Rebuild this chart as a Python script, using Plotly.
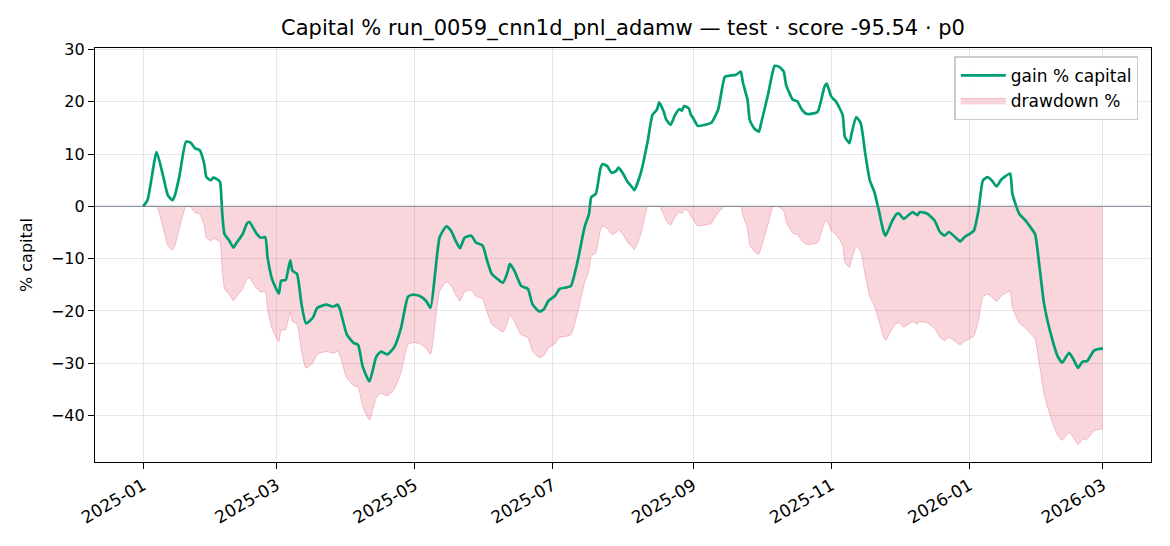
import pandas as pd
import plotly.graph_objects as go

# days since 2025-01-01 and gain % of capital
days = [0, 2, 6, 9, 11, 13, 14, 16, 19, 21, 23, 25, 27, 28, 30, 31, 33, 34, 35, 36,
        38, 40, 41, 44, 46, 47, 50, 52, 54, 55, 57, 60, 61, 63, 65, 66, 68, 70, 72, 75,
        77, 81, 84, 86, 87, 90, 93, 95, 97, 100, 103, 105, 108, 111, 114, 117, 119, 122, 125, 127,
        129, 131, 134, 136, 138, 140, 142, 145, 147, 150, 152, 154, 156, 159, 161, 162, 164, 167, 170, 172,
        175, 177, 179, 182, 184, 187, 189, 192, 195, 197, 198, 200, 202, 203, 205, 207, 209, 210, 212, 214,
        216, 217, 220, 223, 225, 227, 228, 230, 231, 233, 235, 237, 238, 239, 241, 242, 243, 245, 248, 251,
        254, 257, 259, 262, 264, 265, 267, 268, 270, 272, 273, 276, 278, 279, 281, 283, 284, 287, 289, 291,
        293, 295, 298, 301, 302, 304, 306, 309, 310, 312, 313, 315, 317, 319, 321, 323, 325, 327, 328, 331,
        333, 334, 336, 338, 340, 342, 343, 346, 349, 350, 352, 354, 356, 359, 361, 363, 365, 367, 369, 371,
        373, 375, 377, 379, 381, 383, 384, 387, 390, 392, 394, 396, 398, 401, 404, 406, 409, 411, 413, 415,
        417, 420, 423, 424]
gain = [0.0, 1.2, 10.4, 5.6, 2.1, 1.2, 2.0, 5.6, 12.4, 12.2, 11.1, 10.8, 8.2, 5.6, 5.0, 5.5, 5.1, 4.7, -1.4, -5.3,
        -6.5, -7.9, -7.2, -5.3, -3.2, -3.0, -5.1, -6.0, -5.9, -9.7, -13.9, -16.7, -14.2, -14.1, -10.3, -12.3, -12.9, -18.7, -22.4, -21.3,
        -19.4, -18.8, -19.2, -18.8, -19.7, -24.5, -26.1, -26.5, -30.6, -33.5, -28.8, -27.8, -28.3, -26.9, -23.2, -17.3, -16.9, -17.1, -18.1, -19.4,
        -12.9, -5.9, -3.8, -4.6, -6.5, -8.0, -6.0, -5.6, -6.9, -7.5, -10.4, -12.9, -13.7, -14.6, -12.6, -11.0, -12.3, -15.2, -15.8, -18.7,
        -20.1, -19.7, -18.1, -17.1, -15.8, -15.5, -15.2, -10.4, -4.0, -1.4, 1.8, 2.4, 7.2, 8.1, 7.7, 6.4, 6.8, 7.4, 6.3, 4.7,
        3.7, 3.1, 6.6, 12.7, 17.5, 18.5, 19.9, 18.1, 16.7, 15.6, 17.5, 18.6, 18.3, 19.2, 18.8, 17.5, 16.9, 15.4, 15.6, 16.0,
        18.5, 24.8, 25.0, 25.2, 25.8, 23.6, 20.4, 16.5, 14.9, 14.3, 15.9, 21.3, 25.5, 26.9, 26.7, 25.8, 23.3, 20.4, 20.1, 18.5,
        17.7, 17.7, 18.1, 22.9, 23.5, 21.0, 20.1, 17.5, 13.3, 12.1, 14.0, 17.1, 15.9, 10.1, 5.0, 2.8, -0.8, -4.7, -5.6, -2.7,
        -1.4, -1.4, -2.4, -1.7, -1.1, -1.7, -1.1, -1.3, -2.4, -3.0, -4.9, -5.6, -4.9, -6.0, -6.7, -5.8, -5.3, -4.6, -0.8, 5.0,
        5.6, 4.9, 3.8, 5.1, 5.8, 6.3, 2.4, -1.4, -2.8, -4.0, -5.3, -11.7, -18.7, -24.5, -28.7, -29.9, -28.0, -29.3, -30.9, -29.7,
        -29.6, -27.6, -27.2, -27.2]

dates = pd.Timestamp("2025-01-01") + pd.to_timedelta(days, unit="D")
equity = pd.Series([1 + g / 100 for g in gain])
drawdown = (equity / equity.cummax() - 1) * 100

font = "DejaVu Sans, Liberation Sans, sans-serif"

fig = go.Figure()
fig.add_trace(go.Scatter(
    x=dates, y=drawdown, name="drawdown %", mode="lines",
    fill="tozeroy", fillcolor="rgba(220,20,60,0.18)",
    line=dict(color="rgba(220,20,60,0.22)", width=1, shape="spline", smoothing=0.5),
))
fig.add_trace(go.Scatter(
    x=dates, y=gain, name="gain % capital", mode="lines",
    line=dict(color="#009E73", width=2.7, shape="spline", smoothing=0.5),
))
fig.add_hline(y=0, line=dict(color="rgba(112,128,144,0.75)", width=1.2))

# the page body adds 8px, so the figure is a bit smaller than the window
fig.update_layout(
    width=1154, height=530,
    margin=dict(l=87, r=11, t=40, b=76),
    paper_bgcolor="white", plot_bgcolor="white",
    font=dict(family=font, size=16, color="black"),
    title=dict(text="Capital % run_0059_cnn1d_pnl_adamw — test · score -95.54 · p0",
               x=0.5, xref="paper", xanchor="center", y=0.962, yanchor="middle",
               font=dict(size=21)),
    legend=dict(x=0.988, y=0.98, xanchor="right", yanchor="top",
                traceorder="reversed", bgcolor="rgba(255,255,255,0.8)",
                bordercolor="#cccccc", borderwidth=1.5, font=dict(size=17),
                itemwidth=45),
    showlegend=True,
)
fig.update_xaxes(
    type="date", range=["2024-12-10 19:00", "2026-03-22 05:00"],
    tickvals=["2025-01-01", "2025-03-01", "2025-05-01", "2025-07-01", "2025-09-01",
              "2025-11-01", "2026-01-01", "2026-03-01"],
    tickformat="%Y-%m", tickangle=-30, automargin=False,
    tickfont=dict(size=17),
    showline=True, linecolor="black", linewidth=1.2, mirror=True,
    ticks="outside", ticklen=6, tickcolor="black",
    showgrid=True, gridcolor="rgba(0,0,0,0.09)", zeroline=False,
)
fig.update_yaxes(
    range=[-48.9, 30.3], tickvals=[-40, -30, -20, -10, 0, 10, 20, 30],
    title=dict(text="% capital", font=dict(size=16), standoff=14),
    automargin=False,
    showline=True, linecolor="black", linewidth=1.2, mirror=True,
    ticks="outside", ticklen=6, tickcolor="black",
    showgrid=True, gridcolor="rgba(0,0,0,0.09)", zeroline=False,
)

fig.write_html("out.html")
